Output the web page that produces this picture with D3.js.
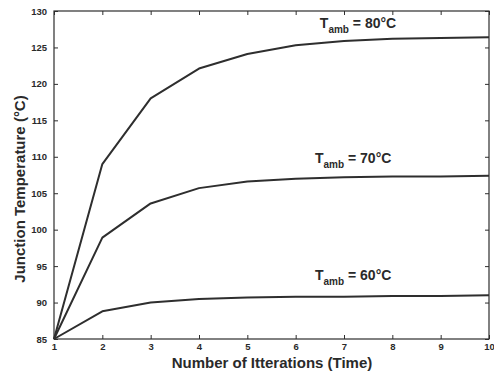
<!DOCTYPE html>
<html>
<head>
<meta charset="utf-8">
<script src="https://cdn.jsdelivr.net/npm/d3@7"></script>
<style>
  body { margin: 0; background: #fff; }
  text { font-family: "Liberation Sans", Arial, sans-serif; font-weight: bold; fill: #2a2a2a; }
</style>
</head>
<body>
<div class="canvas"></div>
<script>
const iterations = [1, 2, 3, 4, 5, 6, 7, 8, 9, 10];
const temp80 = [85, 109, 118, 122.1, 124.1, 125.3, 125.9, 126.2, 126.3, 126.4];
const temp70 = [85, 98.9, 103.6, 105.7, 106.6, 107.0, 107.2, 107.3, 107.3, 107.4];
const temp60 = [85, 88.8, 90.0, 90.5, 90.7, 90.8, 90.8, 90.9, 90.9, 91.0];
const seriesLabels = ['80', '70', '60'];
const xTicks = [1, 2, 3, 4, 5, 6, 7, 8, 9, 10];
const yTicks = [85, 90, 95, 100, 105, 110, 115, 120, 125, 130];

const margin = { top: 11, right: 5, bottom: 34, left: 54 };
const svgDims = { width: 494, height: 373 };
const graphWidth = svgDims.width - margin.left - margin.right;
const graphHeight = svgDims.height - margin.top - margin.bottom;

const svg = d3.select('.canvas')
    .append('svg')
    .attr('width', svgDims.width)
    .attr('height', svgDims.height);

const graph = svg.append('g')
    .attr('transform', `translate(${margin.left}, ${margin.top})`);

const x = d3.scaleLinear().domain([1, 10]).range([0, graphWidth]);
const y = d3.scaleLinear().domain([85, 130]).range([graphHeight, 0]);

const ink = '#2e2e2e';

// axes with inward ticks on all four sides
const styleAxis = g => {
    g.select('.domain').remove();
    g.selectAll('line').attr('stroke', ink).attr('stroke-width', 1);
    g.selectAll('text').style('font-size', '9.5px').attr('fill', ink);
};

graph.append('g')
    .attr('transform', `translate(0, ${graphHeight})`)
    .call(d3.axisBottom(x).tickValues(xTicks).tickSize(-4).tickPadding(4).tickFormat(d3.format('d')))
    .call(styleAxis);

graph.append('g')
    .call(d3.axisTop(x).tickValues(xTicks).tickSize(-4).tickFormat(''))
    .call(styleAxis);

graph.append('g')
    .call(d3.axisLeft(y).tickValues(yTicks).tickSize(-4).tickPadding(7).tickFormat(d3.format('d')))
    .call(styleAxis);

graph.append('g')
    .attr('transform', `translate(${graphWidth}, 0)`)
    .call(d3.axisRight(y).tickValues(yTicks).tickSize(-4).tickFormat(''))
    .call(styleAxis);

graph.append('rect')
    .attr('width', graphWidth)
    .attr('height', graphHeight)
    .attr('fill', 'none')
    .attr('stroke', ink)
    .attr('stroke-width', 1.2);

// curves
const line = d3.line()
    .x((d, i) => x(iterations[i]))
    .y(d => y(d));

graph.selectAll('path.curve')
    .data([temp80, temp70, temp60])
    .enter()
    .append('path')
        .attr('class', 'curve')
        .attr('fill', 'none')
        .attr('stroke', ink)
        .attr('stroke-width', 2)
        .attr('stroke-linejoin', 'round')
        .attr('d', line);

// curve labels
const labelPos = [
    { it: 6.5, v: 127.6 },
    { it: 6.4, v: 109.2 },
    { it: 6.4, v: 93.1 }
];

seriesLabels.forEach((s, i) => {
    const t = graph.append('text')
        .attr('x', x(labelPos[i].it))
        .attr('y', y(labelPos[i].v))
        .style('font-size', '14px');
    t.append('tspan').text('T');
    t.append('tspan').attr('dy', 5).style('font-size', '10px').text('amb');
    t.append('tspan').attr('dy', -5).text(` = ${s}°C`);
});

// axis titles
svg.append('text')
    .attr('x', 272)
    .attr('y', 368)
    .attr('text-anchor', 'middle')
    .style('font-size', '15px')
    .text('Number of Itterations (Time)');

svg.append('text')
    .attr('transform', `translate(25, 189) rotate(-90)`)
    .attr('text-anchor', 'middle')
    .style('font-size', '15px')
    .text('Junction Temperature (°C)');
</script>
</body>
</html>
